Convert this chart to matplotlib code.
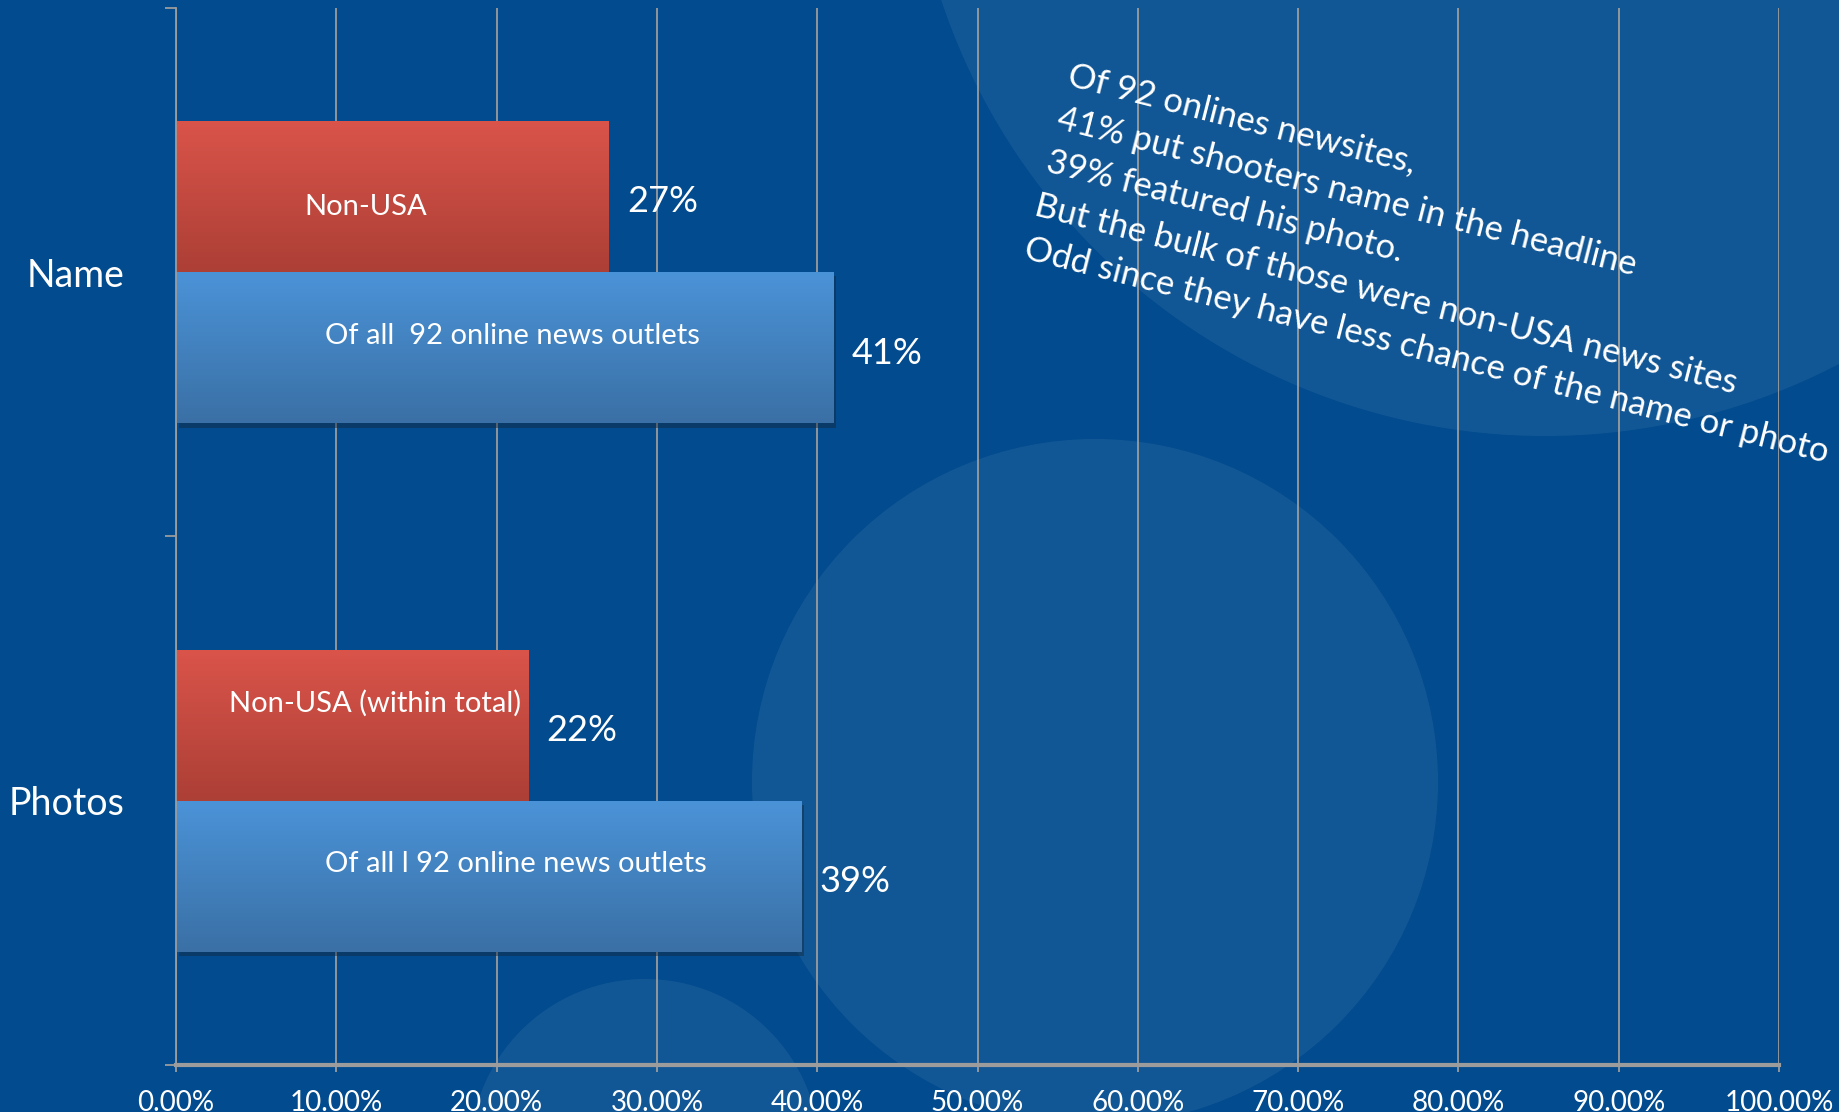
import numpy as np
import matplotlib
matplotlib.use("Agg")
import matplotlib.pyplot as plt
import matplotlib.patheffects as pe
from matplotlib.patches import Circle
from matplotlib.colors import LinearSegmentedColormap
from matplotlib.ticker import PercentFormatter

# chart data
categories = ["Photos", "Name"]
non_usa = [0.22, 0.27]
all_outlets = [0.39, 0.41]
non_usa_text = ["Non-USA (within total)", "Non-USA"]
all_text = ["Of all l 92 online news outlets", "Of all  92 online news outlets"]
value_text_red = ["22%", "27%"]
value_text_blue = ["39%", "41%"]
note = ("Of 92 onlines newsites,\n"
        "41% put shooters name in the headline\n"
        "39% featured his photo.\n"
        "But the bulk of those were non-USA news sites\n"
        "Odd since they have less chance of the name or photo")

BG = "#014B8E"
GRID = "#9C9C9C"
FONT = "Lato"


def main():
    plt.rcParams["font.family"] = [FONT, "DejaVu Sans"]

    fig = plt.figure(figsize=(18.39, 11.12), dpi=100, facecolor=BG)

    # decorative background circles (pixel units / 100 -> inches)
    for cx, cy, r in [(15.45, 13.12, 6.36), (10.95, 3.30, 3.43), (6.45, -0.42, 1.75)]:
        fig.add_artist(Circle((cx, cy), r, transform=fig.dpi_scale_trans,
                              facecolor="white", edgecolor="none", alpha=0.07, zorder=-5))

    ax = fig.add_axes([0.0957, 0.0423, 0.8717, 0.9505])
    ax.set_facecolor("none")

    y = np.arange(len(categories))
    h = 0.286

    red_bars = ax.barh(y + h / 2, non_usa, height=h, color="#C94A40", zorder=2)
    blue_bars = ax.barh(y - h / 2, all_outlets, height=h, color="#4482C0", zorder=2,
                        path_effects=[pe.SimplePatchShadow(offset=(2, -3), alpha=0.45), pe.Normal()])

    red_cm = LinearSegmentedColormap.from_list("r", ["#DA544A", "#AC3F36"])
    blue_cm = LinearSegmentedColormap.from_list("b", ["#4B93D8", "#3A70A5"])
    grad = np.linspace(0, 1, 256).reshape(-1, 1)
    for bars, cm in [(red_bars, red_cm), (blue_bars, blue_cm)]:
        for p in bars:
            x0, y0 = p.get_x(), p.get_y()
            im = ax.imshow(grad, extent=(x0, x0 + p.get_width(), y0, y0 + p.get_height()),
                           cmap=cm, aspect="auto", zorder=2.1)
            im.set_clip_path(p)

    # labels inside bars (positions in data units)
    in_red_x = [0.124, 0.1185]
    in_red_y = [0.184, 1.123]
    in_blue_x = [0.212, 0.2096]
    in_blue_y = [-0.120, 0.879]
    for i in range(len(categories)):
        ax.text(in_red_x[i], in_red_y[i], non_usa_text[i], color="white",
                fontsize=21, ha="center", va="center", zorder=3)
        ax.text(in_blue_x[i], in_blue_y[i], all_text[i], color="white",
                fontsize=21, ha="center", va="center", zorder=3)
        ax.annotate(value_text_red[i], (non_usa[i], y[i] + h / 2 - 0.01),
                    xytext=(13, 0), textcoords="offset points", color="white",
                    fontsize=26, ha="left", va="center", zorder=3)
        ax.annotate(value_text_blue[i], (all_outlets[i], y[i] - h / 2 - 0.01),
                    xytext=(13, 0), textcoords="offset points", color="white",
                    fontsize=26, ha="left", va="center", zorder=3)

    ax.set_xlim(0, 1)
    ax.set_ylim(-0.5, 1.5)
    ax.set_xticks(np.arange(0, 1.01, 0.1))
    ax.xaxis.set_major_formatter(PercentFormatter(xmax=1, decimals=2))
    ax.grid(axis="x", color=GRID, lw=1.3, zorder=1)
    ax.set_axisbelow(True)

    ax.set_yticks(y)
    ax.set_yticklabels(categories)
    ax.set_yticks([-0.5, 0.5, 1.5], minor=True)
    ax.tick_params(axis="y", which="major", length=0, pad=37, labelsize=27, labelcolor="white")
    ax.tick_params(axis="y", which="minor", length=8, width=1.3, color=GRID)
    ax.tick_params(axis="x", length=5, width=1.3, color=GRID, pad=13, labelsize=20,
                   labelcolor="white")
    for lab in ax.get_xticklabels():
        lab.set_family(["Liberation Sans Narrow", FONT])

    for s in ["top", "right"]:
        ax.spines[s].set_visible(False)
    ax.spines["left"].set_color(GRID)
    ax.spines["left"].set_linewidth(1.3)
    ax.spines["bottom"].set_color(GRID)
    ax.spines["bottom"].set_linewidth(3)

    fig.text(0.5835, 0.947, note, rotation=-14.3, rotation_mode="anchor",
             ha="left", va="top", fontsize=25, color="white", linespacing=1.5)

    fig.savefig("out.png", dpi=100, facecolor=BG)
    print("saved out.png")


if __name__ == "__main__":
    main()
